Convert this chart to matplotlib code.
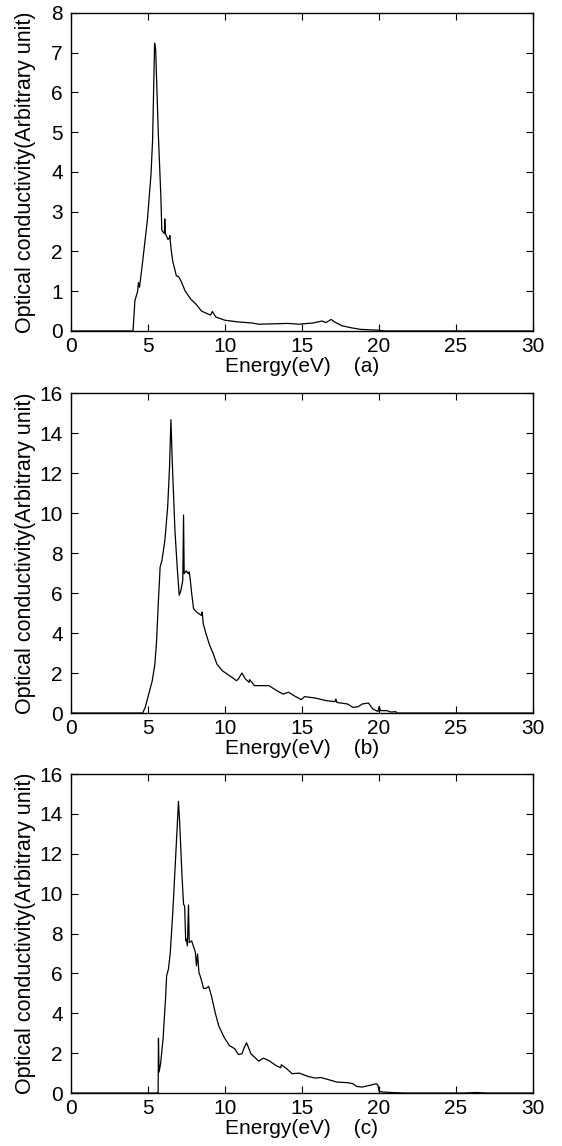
import numpy as np
import matplotlib
matplotlib.use('Agg')
import matplotlib.pyplot as plt

plt.rcParams['font.family'] = ['Liberation Sans', 'DejaVu Sans']

energy_a = [0.0, 3.9, 4.03, 4.15, 4.33, 4.38, 4.45, 4.61, 4.96, 5.2, 5.3, 5.43, 5.5,
            5.67, 5.83, 5.9, 6.0, 6.07, 6.09, 6.12, 6.14, 6.3, 6.4, 6.42, 6.49, 6.6,
            6.84, 7.0, 7.14, 7.42, 7.78, 8.13, 8.48, 9.06, 9.18, 9.41, 10.0, 10.8,
            11.75, 12.2, 14.1, 14.8, 15.7, 16.3, 16.55, 16.9, 17.1, 17.6, 18.2, 18.8,
            19.95, 20.4, 30.0]
sigma_a = [0.0, 0.0, 0.0, 0.76, 1.0, 1.22, 1.1, 1.6, 2.78, 3.96, 4.8, 7.24, 7.07,
           4.97, 3.45, 2.53, 2.48, 2.45, 2.82, 2.5, 2.44, 2.3, 2.35, 2.4, 2.1, 1.77,
           1.39, 1.36, 1.26, 1.0, 0.8, 0.67, 0.5, 0.4, 0.49, 0.35, 0.27, 0.23,
           0.2, 0.17, 0.19, 0.17, 0.2, 0.25, 0.21, 0.29, 0.23, 0.13, 0.08, 0.04,
           0.02, 0.0, 0.0]

# panel (b)
energy_b = [0.0, 4.65, 4.82, 5.05, 5.28, 5.45, 5.56, 5.68, 5.79, 5.91, 6.1, 6.28, 6.4,
            6.49, 6.59, 6.75, 6.91, 7.03, 7.14, 7.26, 7.31, 7.35, 7.49, 7.61, 7.68,
            7.75, 7.84, 7.96, 8.15, 8.31, 8.47, 8.52, 8.59, 8.77, 9.01, 9.24, 9.47,
            9.82, 10.29, 10.75, 10.87, 11.1, 11.33, 11.57, 11.6, 11.92, 12.85, 13.2,
            13.55, 13.78, 14.13, 14.48, 14.95, 15.17, 15.87, 16.57, 17.15, 17.2,
            17.27, 17.97, 18.31, 18.66, 18.9, 19.32, 19.6, 19.94, 20.01, 20.1, 20.53,
            20.76, 21.1, 21.15, 30.0]
sigma_b = [0.0, 0.0, 0.28, 0.95, 1.62, 2.46, 3.63, 5.64, 7.31, 7.64, 8.65, 10.32, 12.3,
           14.67, 12.3, 9.15, 7.14, 5.89, 6.14, 6.64, 9.9, 6.97, 7.11, 6.97, 7.06,
           6.64, 5.97, 5.22, 5.05, 4.97, 4.88, 5.05, 4.46, 3.96, 3.38, 2.96, 2.46,
           2.12, 1.87, 1.62, 1.7, 2.0, 1.7, 1.54, 1.67, 1.37, 1.37, 1.2,
           1.04, 0.95, 1.04, 0.87, 0.67, 0.82, 0.75, 0.62, 0.57, 0.7,
           0.53, 0.45, 0.28, 0.32, 0.45, 0.5, 0.2, 0.08, 0.33, 0.12, 0.12,
           0.05, 0.07, 0.0, 0.0]

# panel (c)
energy_c = [0.0, 5.63, 5.66, 5.68, 5.72, 5.82, 5.98, 6.14, 6.21, 6.33, 6.45, 6.61, 6.8,
            6.98, 7.07, 7.21, 7.31, 7.38, 7.45, 7.49, 7.56, 7.63, 7.68, 7.84, 8.08,
            8.15, 8.22, 8.31, 8.42, 8.61, 8.77, 8.94, 9.12, 9.36, 9.59, 9.94, 10.29,
            10.64, 10.87, 11.1, 11.26, 11.4, 11.52, 11.68, 11.92, 12.19, 12.5, 12.85,
            13.31, 13.62, 13.66, 14.01, 14.36, 14.82, 15.41, 15.87, 16.22, 16.69,
            17.27, 17.97, 18.31, 18.55, 18.9, 19.36, 19.83, 19.94, 20.01, 20.29,
            21.0, 21.7, 25.5, 26.3, 27.0, 30.0]
sigma_c = [0.0, 0.0, 0.0, 2.75, 1.05, 1.47, 2.72, 4.72, 5.88, 6.22, 7.05, 9.05, 11.88,
           14.63, 13.38, 10.88, 9.47, 9.38, 7.63, 7.72, 7.38, 9.43, 7.55, 7.63, 7.05,
           6.38, 6.97, 6.05, 5.8, 5.25, 5.25, 5.35, 4.88, 4.05, 3.38, 2.8, 2.38,
           2.22, 1.93, 1.97, 2.3, 2.52, 2.3, 1.97, 1.8, 1.6, 1.75, 1.63,
           1.38, 1.27, 1.42, 1.22, 0.97, 1.0, 0.83, 0.75, 0.78, 0.68,
           0.55, 0.52, 0.47, 0.33, 0.3, 0.38, 0.47, 0.38, 0.08, 0.05,
           0.02, 0.0, 0.0, 0.03, 0.0, 0.0]

panels = [(energy_a, sigma_a, 8, 1, '(a)'),
          (energy_b, sigma_b, 16, 2, '(b)'),
          (energy_c, sigma_c, 16, 2, '(c)')]

boxes = [[0.1263, 0.7112, 0.822, 0.2775],
         [0.1263, 0.3778, 0.822, 0.2792],
         [0.1263, 0.0462, 0.822, 0.2784]]

fig = plt.figure(figsize=(5.62, 11.46), dpi=100)
for (e, s, ymax, ystep, tag), box in zip(panels, boxes):
    ax = fig.add_axes(box)
    ax.plot(e, s, color='black', lw=0.9)
    ax.set_xlim(0, 30)
    ax.set_ylim(0, ymax)
    ax.set_xticks(np.arange(0, 31, 5))
    ax.set_yticks(np.arange(0, ymax + 1, ystep))
    ax.tick_params(direction='in', top=True, right=True, length=5, width=0.8,
                   labelsize=15)
    ax.tick_params(axis='x', pad=4)
    ax.tick_params(axis='y', pad=6)
    for sp in ax.spines.values():
        sp.set_linewidth(1.0)
    ax.set_xlabel('Energy(eV)    ' + tag, fontsize=15, labelpad=1)
    ax.set_ylabel('Optical conductivity(Arbitrary unit)', fontsize=15.5)
    ax.yaxis.set_label_coords(-0.076, 0.5)

fig.savefig('out.png', dpi=100)
